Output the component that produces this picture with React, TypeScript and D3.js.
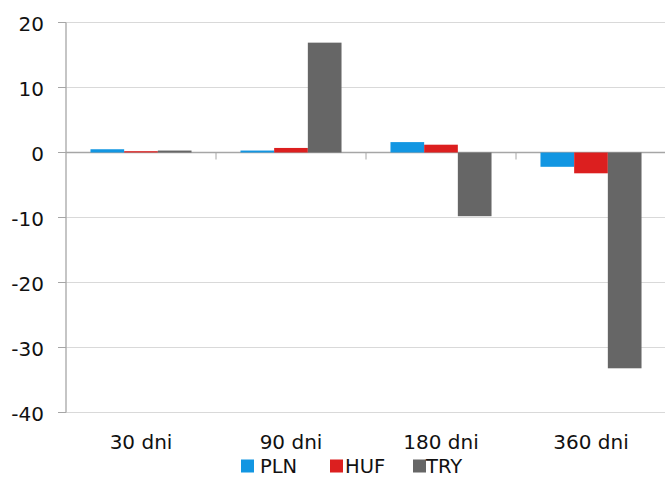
import React from "react";
import * as d3 from "d3";

const categories = ["30 dni", "90 dni", "180 dni", "360 dni"];
const seriesNames = ["PLN", "HUF", "TRY"];
const plnValues = [0.5, 0.3, 1.6, -2.2];
const hufValues = [0.2, 0.7, 1.2, -3.2];
const tryValues = [0.3, 16.9, -9.8, -33.2];
const yTicks = [20, 10, 0, -10, -20, -30, -40];
const colors = ["#1296e2", "#dc1f1f", "#666666"];

const W = 665;
const H = 477;

export default function App() {
  const values = [plnValues, hufValues, tryValues];
  const y = d3.scaleLinear().domain([-40, 20]).range([412.5, 22.5]);
  const x = d3.scaleBand<string>().domain(categories).range([66, 666]).paddingInner(0).paddingOuter(0);
  const xs = d3
    .scaleBand<string>()
    .domain(seriesNames)
    .range([0, x.bandwidth()])
    .paddingInner(0)
    .paddingOuter(0.727);
  const font = "'DejaVu Sans', Verdana, sans-serif";
  const legendX = [241, 330, 413];
  const legendTextX = [260, 345, 426];

  return (
    <svg
      width={W}
      height={H}
      style={{ position: "absolute", left: 0, top: 0, background: "#fff" }}
    >
      {yTicks.map((t) => (
        <line
          key={"g" + t}
          x1={66}
          x2={W}
          y1={y(t)}
          y2={y(t)}
          stroke={t === 0 ? "#a6a6a6" : "#d9d9d9"}
          strokeWidth={t === 0 ? 1.3 : 1}
        />
      ))}
      {yTicks.map((t) => (
        <line key={"t" + t} x1={58} x2={66} y1={y(t)} y2={y(t)} stroke="#a6a6a6" strokeWidth={1} />
      ))}
      <line x1={66} x2={66} y1={y(20)} y2={y(-40)} stroke="#a6a6a6" strokeWidth={1.3} />
      {yTicks.map((t) => (
        <text
          key={"l" + t}
          x={44}
          y={y(t) + 8.5}
          textAnchor="end"
          fontFamily={font}
          fontSize={20}
          fill="#111"
        >
          {t}
        </text>
      ))}
      {categories.map((c, ci) =>
        seriesNames.map((s, si) => {
          const v = values[si][ci];
          const x0 = (x(c) as number) + (xs(s) as number);
          return (
            <rect
              key={c + s}
              x={x0}
              y={Math.min(y(v), y(0))}
              width={xs.bandwidth()}
              height={Math.abs(y(v) - y(0))}
              fill={colors[si]}
            />
          );
        })
      )}
      {categories.slice(1).map((c) => (
        <line
          key={"ct" + c}
          x1={x(c) as number}
          x2={x(c) as number}
          y1={y(0)}
          y2={y(0) + 7}
          stroke="#a6a6a6"
          strokeWidth={1}
        />
      ))}
      {categories.map((c) => (
        <text
          key={"cl" + c}
          x={(x(c) as number) + x.bandwidth() / 2}
          y={448.5}
          textAnchor="middle"
          fontFamily={font}
          fontSize={20}
          fill="#111"
        >
          {c}
        </text>
      ))}
      {seriesNames.map((s, i) => (
        <g key={"lg" + s}>
          <rect x={legendX[i]} y={459.5} width={13} height={13} fill={colors[i]} />
          <text x={legendTextX[i]} y={472.5} fontFamily={font} fontSize={19.5} fill="#111">
            {s}
          </text>
        </g>
      ))}
    </svg>
  );
}
